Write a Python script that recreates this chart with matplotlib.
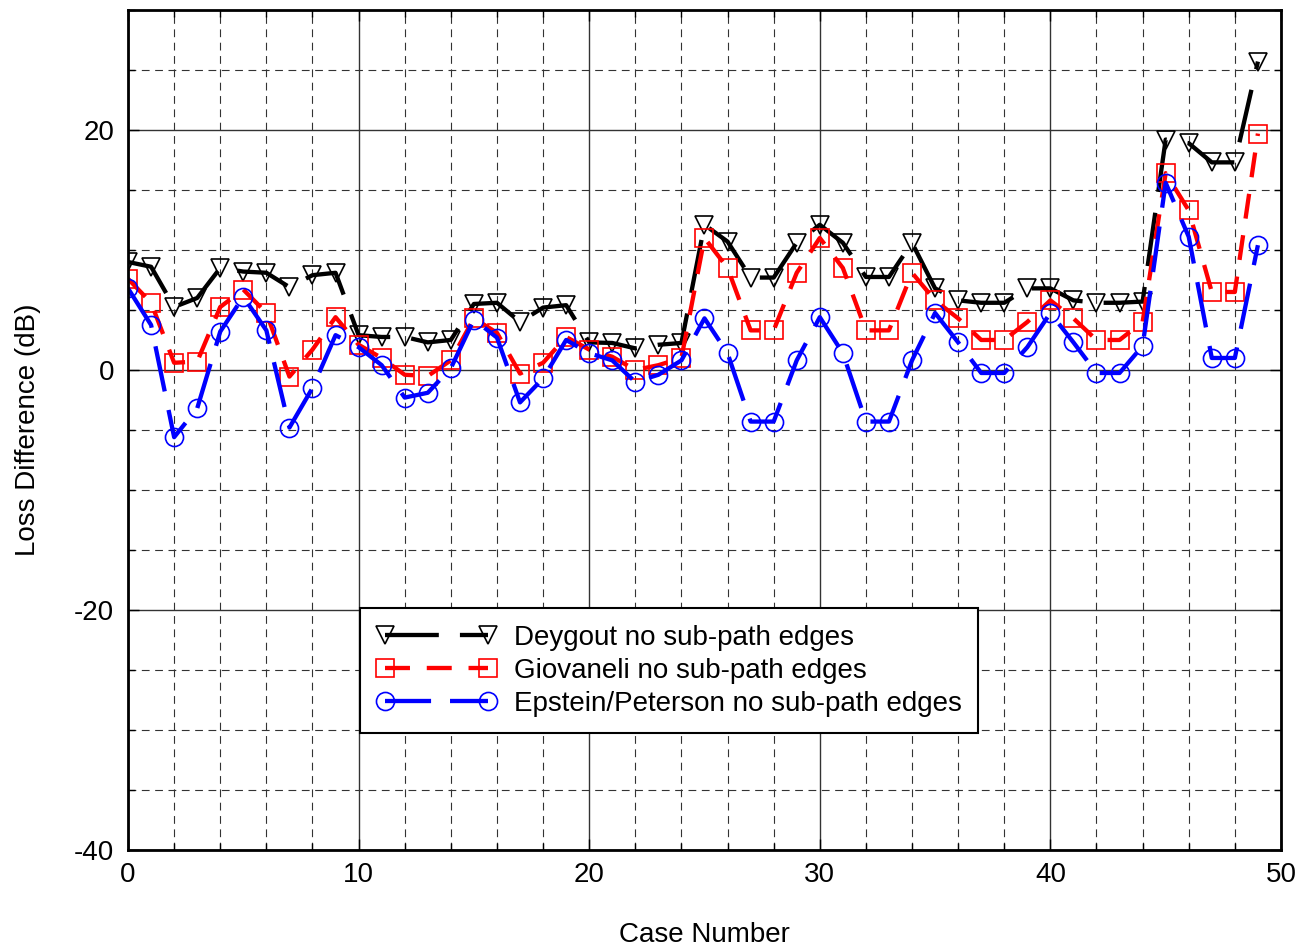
import matplotlib
matplotlib.use("Agg")
import matplotlib.pyplot as plt
from matplotlib.ticker import MultipleLocator

plt.rcParams['font.family'] = ['Liberation Sans', 'DejaVu Sans']
plt.rcParams['axes.unicode_minus'] = False

case = list(range(50))

deygout = [9.0, 8.6, 5.25, 6.0, 8.5, 8.2, 8.1, 6.9, 7.9, 8.1,
           2.9, 2.75, 2.75, 2.3, 2.5, 5.5, 5.6, 4.0, 5.2, 5.4,
           2.3, 2.25, 1.8, 2.1, 2.25, 12.1, 10.7, 7.7, 7.7, 10.6,
           12.1, 10.6, 7.75, 7.75, 10.6, 6.8, 5.8, 5.6, 5.6, 6.8,
           6.8, 5.8, 5.6, 5.6, 5.7, 19.2, 18.9, 17.3, 17.3, 25.7]

giovaneli = [7.6, 5.6, 0.6, 0.7, 5.25, 6.7, 4.75, -0.55, 1.7, 4.4,
             2.1, 1.0, -0.4, -0.5, 0.8, 4.3, 3.1, -0.3, 0.6, 2.75,
             1.7, 1.1, 0.0, 0.4, 1.0, 11.0, 8.5, 3.3, 3.3, 8.1,
             11.0, 8.5, 3.3, 3.3, 8.1, 5.8, 4.3, 2.5, 2.5, 4.0,
             5.8, 4.3, 2.5, 2.5, 4.0, 16.4, 13.3, 6.5, 6.5, 19.7]

epstein = [6.8, 3.75, -5.6, -3.2, 3.2, 6.1, 3.3, -4.8, -1.5, 2.9,
           1.9, 0.4, -2.3, -1.9, 0.15, 4.2, 2.7, -2.7, -0.7, 2.5,
           1.4, 0.8, -1.0, -0.4, 0.8, 4.3, 1.4, -4.3, -4.3, 0.8,
           4.4, 1.4, -4.3, -4.3, 0.8, 4.75, 2.3, -0.25, -0.25, 1.9,
           4.75, 2.3, -0.25, -0.25, 2.0, 15.6, 11.1, 1.0, 1.0, 10.4]

fig = plt.figure(figsize=(13.01, 9.5), dpi=100)
ax = fig.add_axes([0.0984, 0.1053, 0.8862, 0.8842])

lw = 3.1
ax.plot(case, deygout, color='black', lw=lw, dashes=(12.5, 4.9),
        marker='v', ms=13, mfc='none', mec='black', mew=1.2,
        label='Deygout no sub-path edges')
ax.plot(case, giovaneli, color='red', lw=lw, dashes=(5.8, 3.9),
        marker='s', ms=12.5, mfc='none', mec='red', mew=1.2,
        label='Giovaneli no sub-path edges')
ax.plot(case, epstein, color='blue', lw=lw, dashes=(10.7, 4.4),
        marker='o', ms=13, mfc='none', mec='blue', mew=1.2,
        label='Epstein/Peterson no sub-path edges')

ax.set_xlim(0, 50)
ax.set_ylim(-40, 30)
ax.xaxis.set_major_locator(MultipleLocator(10))
ax.xaxis.set_minor_locator(MultipleLocator(2))
ax.yaxis.set_major_locator(MultipleLocator(20))
ax.yaxis.set_minor_locator(MultipleLocator(5))

ax.grid(which='major', color='#333333', lw=1.0, ls='-')
ax.grid(which='minor', color='#333333', lw=0.8, ls=(0, (7, 5)))
ax.set_axisbelow(True)

ax.tick_params(which='both', direction='in', top=True, right=True,
               labelsize=20)
ax.tick_params(axis='x', pad=9)
ax.tick_params(axis='y', pad=10)
ax.tick_params(which='major', length=8, width=1)
ax.tick_params(which='minor', length=5, width=1)
for s in ax.spines.values():
    s.set_linewidth(2)

ax.set_xlabel('Case Number', fontsize=20, labelpad=24)
ax.set_ylabel('Loss Difference (dB)', fontsize=20, labelpad=24)

leg = ax.legend(loc='upper left', bbox_to_anchor=(0.201, 0.288),
                borderaxespad=0, fontsize=20, numpoints=2,
                handlelength=4.3, fancybox=False, edgecolor='black',
                framealpha=1, borderpad=0.6, labelspacing=0.25,
                handletextpad=0.65)
leg.get_frame().set_linewidth(1.5)

fig.savefig('out.png', dpi=100)
